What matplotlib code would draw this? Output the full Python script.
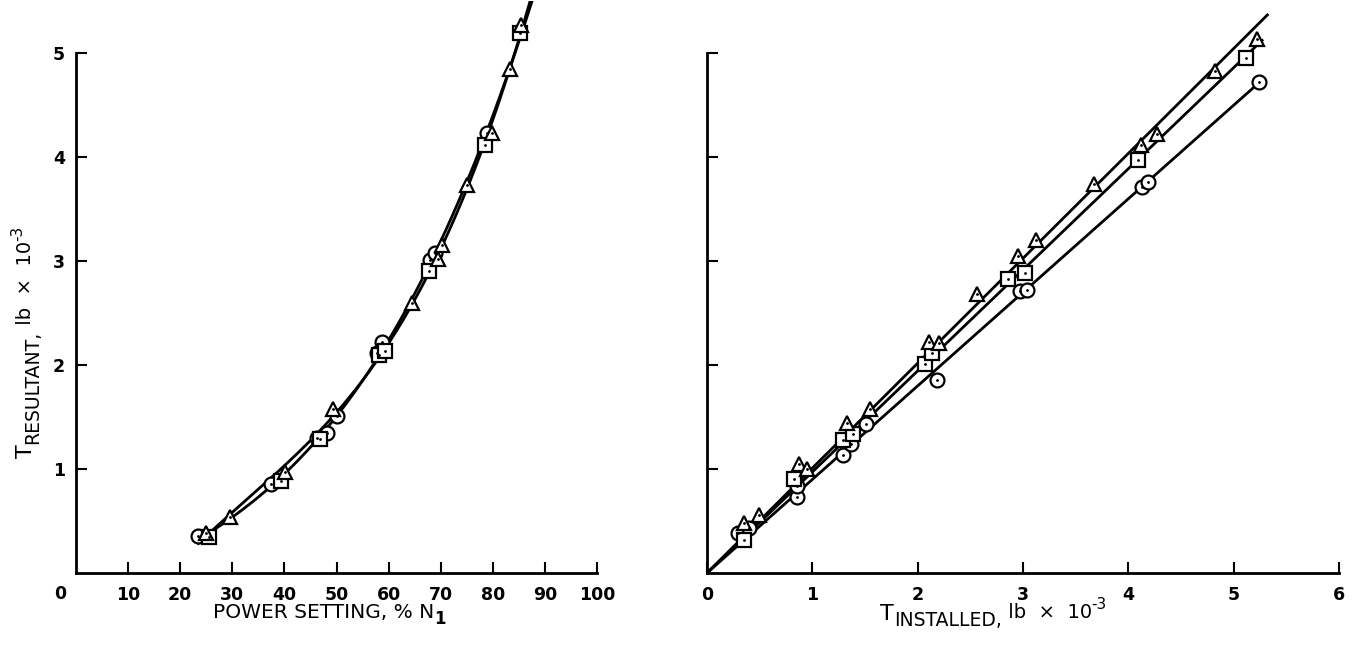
import numpy as np
import matplotlib
matplotlib.use('Agg')
import matplotlib.pyplot as plt

plt.rcParams['font.family'] = ['DejaVu Sans']

# left panel: power setting (% N1) vs T resultant (lb x 10^-3)
pwr_circ = [23.4, 37.5, 46.2, 48.1, 50.0, 57.7, 58.7, 67.9, 68.9, 78.8]
res_circ = [0.36, 0.86, 1.30, 1.35, 1.51, 2.12, 2.22, 3.01, 3.08, 4.23]
pwr_sq = [25.6, 39.4, 46.8, 58.2, 59.3, 67.8, 78.5, 85.2]
res_sq = [0.35, 0.88, 1.29, 2.10, 2.13, 2.90, 4.12, 5.19]
pwr_tri = [24.9, 29.5, 40.1, 49.4, 64.4, 69.5, 70.2, 75.0, 79.8, 83.3, 85.5]
res_tri = [0.38, 0.54, 0.97, 1.58, 2.60, 3.02, 3.15, 3.73, 4.23, 4.85, 5.27]
pwr_range = [23.5, 87.5]

# right panel: T installed vs T resultant (lb x 10^-3)
inst_circ = [0.29, 0.40, 0.855, 0.85, 1.29, 1.37, 1.51, 2.18, 2.97, 3.04, 4.13, 4.19, 5.24]
res2_circ = [0.38, 0.43, 0.735, 0.84, 1.13, 1.24, 1.43, 1.86, 2.71, 2.72, 3.71, 3.76, 4.72]
inst_sq = [0.35, 0.83, 1.29, 1.39, 2.07, 2.14, 2.86, 3.02, 4.09, 5.12]
res2_sq = [0.32, 0.90, 1.28, 1.34, 2.01, 2.12, 2.83, 2.88, 3.97, 4.95]
inst_tri = [0.35, 0.49, 0.87, 0.95, 1.33, 1.55, 2.11, 2.20, 2.56, 2.95, 3.12, 3.67, 4.12, 4.27, 4.82, 5.22]
res2_tri = [0.48, 0.56, 1.05, 1.00, 1.44, 1.58, 2.22, 2.21, 2.68, 3.05, 3.20, 3.74, 4.12, 4.22, 4.83, 5.13]
line_end = {'circ': 5.24, 'sq': 5.27, 'tri': 5.32}

W, H = 1359, 645
mk = dict(mfc='white', mec='black', mew=1.6, ms=10, ls='none', zorder=3)
dot = dict(color='black', marker='.', ms=2, ls='none', zorder=4)

fig = plt.figure(figsize=(W / 100, H / 100), dpi=100)
ax1 = fig.add_axes([76 / W, 72 / H, 521 / W, 572 / H])
ax2 = fig.add_axes([707 / W, 72 / H, 632 / W, 572 / H])


def points(ax, x, y, m):
    ax.plot(x, y, marker=m, **mk)
    ax.plot(x, y, **dot)


def chain(x, y, pieces, vertical=False):
    # place text pieces one after the other (pixel coords, y from top)
    # shift > 0 raises a piece above the baseline
    r = fig.canvas.get_renderer()
    for s, size, shift, weight in pieces:
        if vertical:
            t = fig.text((x - shift) / W, 1 - y / H, s, fontsize=size, fontweight=weight,
                         rotation=90, rotation_mode='anchor', ha='left', va='baseline')
            y -= t.get_window_extent(r).height
        else:
            t = fig.text(x / W, 1 - (y - shift) / H, s, fontsize=size, fontweight=weight,
                         ha='left', va='baseline')
            x += t.get_window_extent(r).width


# left: faired curves through the data
xx = np.linspace(pwr_range[0], pwr_range[1], 200)
c_low = np.polyfit(pwr_circ + pwr_sq, res_circ + res_sq, 3)
c_tri = np.polyfit(pwr_tri, res_tri, 3)
ax1.plot(xx, np.polyval(c_low, xx), color='black', lw=2, zorder=2)
ax1.plot(xx, np.polyval(c_tri, xx), color='black', lw=2, zorder=2)
points(ax1, pwr_circ, res_circ, 'o')
points(ax1, pwr_sq, res_sq, 's')
points(ax1, pwr_tri, res_tri, '^')

# right: straight lines through the origin
for x, y, key in [(inst_circ, res2_circ, 'circ'), (inst_sq, res2_sq, 'sq'), (inst_tri, res2_tri, 'tri')]:
    x = np.array(x)
    y = np.array(y)
    k = (x * y).sum() / (x * x).sum()
    ax2.plot([0, line_end[key]], [0, k * line_end[key]], color='black', lw=2, zorder=2)
points(ax2, inst_circ, res2_circ, 'o')
points(ax2, inst_sq, res2_sq, 's')
points(ax2, inst_tri, res2_tri, '^')

for ax in (ax1, ax2):
    ax.set_ylim(0, 5.5)
    ax.spines['top'].set_visible(False)
    ax.spines['right'].set_visible(False)
    ax.spines['left'].set_linewidth(2)
    ax.spines['bottom'].set_linewidth(2)
    ax.spines['left'].set_bounds(0, 5)
    ax.set_yticks([1, 2, 3, 4, 5])
    ax.tick_params(direction='in', length=8, width=1.5, labelsize=12.5)
    ax.tick_params(axis='x', pad=9)
    ax.tick_params(axis='y', pad=8)

ax1.set_xlim(0, 100)
ax1.set_xticks(range(10, 101, 10))
ax1.set_xticklabels([str(v) for v in range(10, 101, 10)], fontweight='bold')
ax1.set_yticklabels(['1', '2', '3', '4', '5'], fontweight='bold')
ax1.text(-3, -0.2, '0', ha='center', va='center', fontsize=12.5, fontweight='bold')

ax2.set_xlim(0, 6)
ax2.set_xticks(range(0, 7))
ax2.set_xticklabels([str(v) for v in range(0, 7)], fontweight='bold')
ax2.set_yticklabels([])

fig.canvas.draw()
chain(213, 618, [('POWER SETTING, % N', 14.5, 0, 'normal'), ('1', 12, -6, 'bold')])
chain(880, 620, [('T', 16, 0, 'normal'), ('INSTALLED,', 13.5, -6, 'normal'),
                 (' lb  ×  10', 14, 2, 'normal'), ('-3', 11, 11, 'normal')])
chain(32, 458, [('T', 16, 0, 'normal'), ('RESULTANT,', 13.5, -6, 'normal'),
                (' lb  ×  10', 14, 1, 'normal'), ('-3', 11, 10, 'normal')], vertical=True)

fig.savefig('out.png', dpi=100)
